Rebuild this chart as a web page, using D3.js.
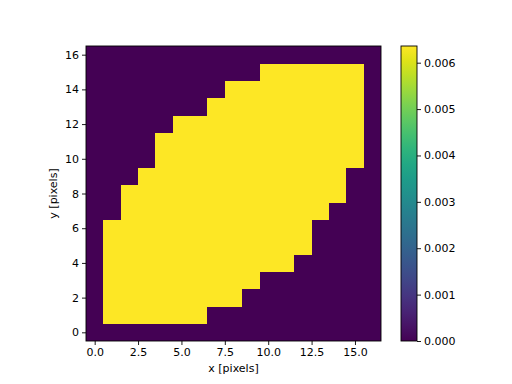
<!DOCTYPE html>
<html><head><meta charset="utf-8">
<script src="https://cdn.jsdelivr.net/npm/d3@7"></script>
<style>body{margin:0;background:#fff}svg{display:block}text{font-family:"DejaVu Sans";}</style>
</head><body>
<svg id="c" width="512" height="384"></svg>
<script>
// Grid data: for each row y = 0..16, first and last lit column (null = none)
const rowY     = [0,1,2,3,4,5,6,7,8,9,10,11,12,13,14,15,16];
const rowStart = [null,1,1,1,1,1,1,2,2,3,4,4,5,7,8,10,null];
const rowEnd   = [null,6,8,9,11,12,12,13,14,14,15,15,15,15,15,15,null];
const litValue = 0.00636;
const bgValue = 0;
const xTicks = [0,2.5,5,7.5,10,12.5,15];
const yTicks = [0,2,4,6,8,10,12,14,16];
const cbTicks = [0,0.001,0.002,0.003,0.004,0.005,0.006];

const cells = [];
rowY.forEach((y,i)=>{
  for(let x=0;x<17;x++){
    const on = rowStart[i]!==null && x>=rowStart[i] && x<=rowEnd[i];
    cells.push({x,y,v: on?litValue:bgValue});
  }
});

const svg = d3.select("#c");
const L=86,R=381,T=46,B=341;
const xs = d3.scaleLinear().domain([-0.5,16.5]).range([L,R]);
const ys = d3.scaleLinear().domain([-0.5,16.5]).range([B,T]);
const color = d3.scaleSequential(d3.interpolateViridis).domain([0,litValue]);

svg.append("g").selectAll("rect").data(cells).join("rect")
  .attr("x",d=>xs(d.x-0.5)).attr("y",d=>ys(d.y+0.5))
  .attr("width",d=>xs(d.x+0.5)-xs(d.x-0.5)+0.4)
  .attr("height",d=>ys(d.y-0.5)-ys(d.y+0.5)+0.4)
  .attr("fill",d=>color(d.v)).attr("shape-rendering","crispEdges");

const fs = 11;
const xa = svg.append("g").attr("transform",`translate(0,${B})`)
  .call(d3.axisBottom(xs).tickValues(xTicks).tickFormat(d3.format(".1f")).tickSizeOuter(0).tickSize(4).tickPadding(3));
const ya = svg.append("g").attr("transform",`translate(${L},0)`)
  .call(d3.axisLeft(ys).tickValues(yTicks).tickFormat(d3.format("d")).tickSizeOuter(0).tickSize(4).tickPadding(3));
[xa,ya].forEach(a=>{a.select(".domain").remove();a.selectAll("text").attr("font-size",fs).attr("fill","#000").attr("font-family","DejaVu Sans");a.selectAll("line").attr("stroke","#000").attr("stroke-width",0.9);});

svg.append("rect").attr("x",L).attr("y",T).attr("width",R-L).attr("height",B-T)
  .attr("fill","none").attr("stroke","#000").attr("stroke-width",0.9);

svg.append("text").attr("x",(L+R)/2).attr("y",372).attr("text-anchor","middle").attr("font-size",fs).text("x [pixels]");
svg.append("text").attr("transform",`translate(57,${(T+B)/2}) rotate(-90)`).attr("text-anchor","middle").attr("font-size",fs).text("y [pixels]");

// colorbar
const cL=401,cR=417;
const cs = d3.scaleLinear().domain([0,litValue]).range([B,T]);
const defs = svg.append("defs");
const grad = defs.append("linearGradient").attr("id","vg").attr("x1",0).attr("y1",1).attr("x2",0).attr("y2",0);
d3.range(0,1.0001,0.05).forEach(t=>grad.append("stop").attr("offset",t).attr("stop-color",d3.interpolateViridis(t)));
svg.append("rect").attr("x",cL).attr("y",T).attr("width",cR-cL).attr("height",B-T).attr("fill","url(#vg)");
const ca = svg.append("g").attr("transform",`translate(${cR},0)`)
  .call(d3.axisRight(cs).tickValues(cbTicks).tickFormat(d3.format(".3f")).tickSizeOuter(0).tickSize(4).tickPadding(3));
ca.select(".domain").remove();
ca.selectAll("text").attr("font-size",fs).attr("fill","#000").attr("font-family","DejaVu Sans");
ca.selectAll("line").attr("stroke","#000").attr("stroke-width",0.9);
svg.append("rect").attr("x",cL).attr("y",T).attr("width",cR-cL).attr("height",B-T).attr("fill","none").attr("stroke","#000").attr("stroke-width",0.9);
</script>
</body></html>
